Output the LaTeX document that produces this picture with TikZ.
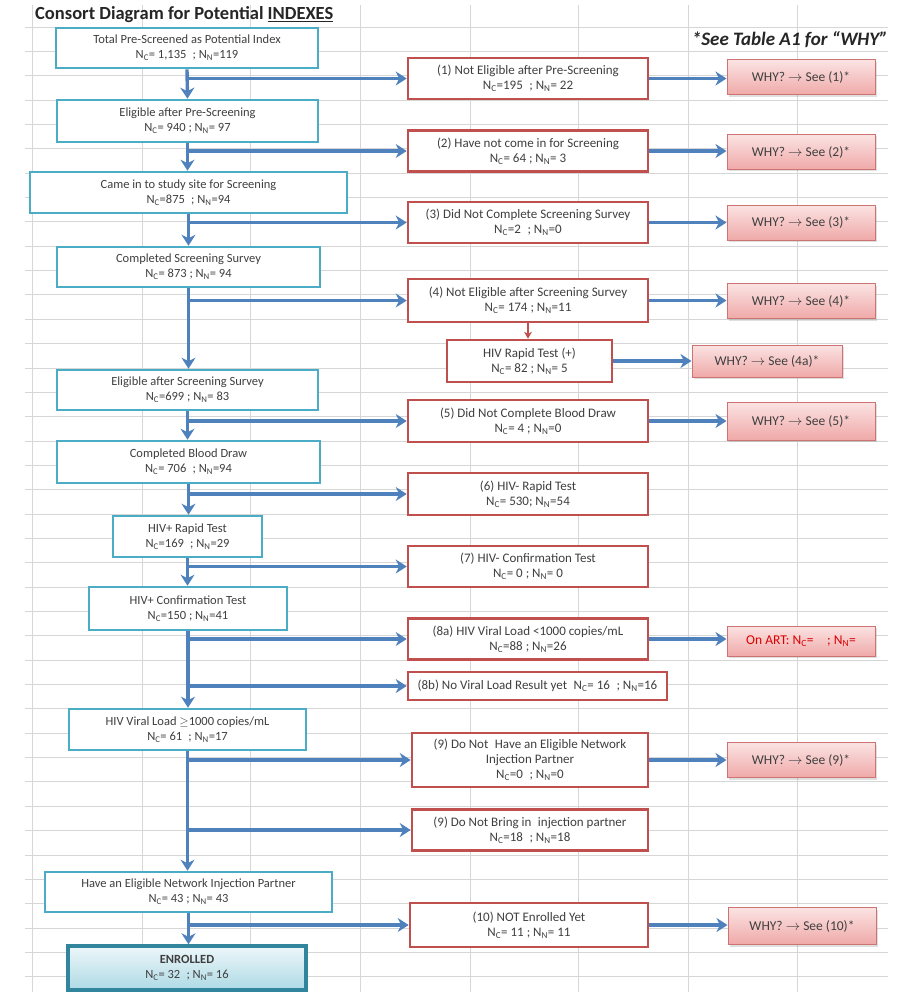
\documentclass[tikz,border=0pt]{standalone}
\usepackage{fontspec}
\setmainfont{Carlito}
\usepackage{tikz}
\usetikzlibrary{arrows.meta,shadows}
\definecolor{boxcyan}{HTML}{4BACC6}
\definecolor{boxteal}{HTML}{31859C}
\definecolor{boxred}{HTML}{C0504D}
\definecolor{flowblue}{HTML}{4F81BD}
\definecolor{gridgray}{HTML}{D6D6D6}
\definecolor{txtgray}{HTML}{3F3F3F}
\definecolor{whytop}{HTML}{FBE3E3}
\definecolor{whybot}{HTML}{EFA9A8}
\newcommand{\NC}{N\textsubscript{C}}
\newcommand{\NN}{N\textsubscript{N}}

\begin{document}
\begin{tikzpicture}[x=1pt,y=1pt]
			\tikzstyle{every node}+=[inner sep=0pt, text=txtgray, align=center, font=\fontsize{12.5}{15}\selectfont]
			\tikzstyle{mainbox}=[draw=boxcyan, fill=white, line width=2.6pt, minimum height=40]
			\tikzstyle{outbox}=[draw=boxred, fill=white, line width=2.6pt, minimum width=240, minimum height=41, font=\fontsize{13}{15}\selectfont]
			\tikzstyle{whybox}=[draw=boxred!80, line width=1pt, top color=whytop, bottom color=whybot, minimum width=148, minimum height=35, font=\fontsize{13.5}{15}\selectfont, drop shadow={opacity=0.25, shadow xshift=2pt, shadow yshift=-2pt}]
			\tikzstyle{flow}=[draw=flowblue, line width=3.4pt, -{Stealth[length=11pt,width=14pt,inset=3.5pt]}]
			\useasboundingbox (0,0) rectangle (903,-995);
			\fill [white] (0,0) rectangle (903,-995);
			\foreach \gx in {32,142,250,360,470,578,688,797}
				\draw [gridgray, line width=0.8pt] (\gx,-5) -- (\gx,-992);
			\foreach \k in {0,...,39}
				\draw [gridgray, line width=0.8pt] (25,{-27-24.35*\k}) -- (888,{-27-24.35*\k});
			\node [anchor=west, font=\fontsize{18.5}{20}\selectfont\bfseries, text=black!85] (title) at (35,-15) {Consort Diagram for Potential \underline{INDEXES}};
			\node [anchor=east, font=\fontsize{19}{20}\selectfont\bfseries\itshape, text=black!85] (note) at (888,-40) {*See Table A1 for ``WHY''};
			\node [mainbox, minimum width=262] (m1) at (187,-48) {Total Pre-Screened as Potential Index\\ \NC= 1,135\enspace ; \NN=119};
			\node [mainbox, minimum width=261, minimum height=42] (m2) at (187.5,-121) {Eligible after Pre-Screening\\ \NC= 940 ; \NN= 97};
			\node [mainbox, minimum width=317, minimum height=41] (m3) at (188.5,-192.5) {Came in to study site for Screening\\ \NC=875\enspace ; \NN=94};
			\node [mainbox, minimum width=263] (m4) at (188.5,-267) {Completed Screening Survey\\ \NC= 873 ; \NN= 94};
			\node [mainbox, minimum width=261] (m5) at (187.5,-390) {Eligible after Screening Survey\\ \NC=699 ; \NN= 83};
			\node [mainbox, minimum width=263, minimum height=42] (m6) at (188.5,-462) {Completed Blood Draw\\ \NC= 706\enspace ; \NN=94};
			\node [mainbox, minimum width=149, minimum height=41] (m7) at (187.5,-536.5) {HIV+ Rapid Test\\ \NC=169\enspace ; \NN=29};
			\node [mainbox, minimum width=198, minimum height=43] (m8) at (188,-608.5) {HIV+ Confirmation Test\\ \NC=150 ; \NN=41};
			\node [mainbox, minimum width=237, minimum height=41] (m9) at (187.5,-729.5) {HIV Viral Load $\geq$1000 copies/mL\\ \NC= 61\enspace ; \NN=17};
			\node [mainbox, minimum width=287] (m10) at (188.5,-892) {Have an Eligible Network Injection Partner\\ \NC= 43 ; \NN= 43};
			\node [mainbox, draw=boxteal, line width=3.4pt, top color=boxcyan!10, bottom color=boxcyan!45, minimum width=238, minimum height=44, drop shadow={opacity=0.25, shadow xshift=2pt, shadow yshift=-2pt}] (m11) at (187,-968) {\textbf{ENROLLED}\\ \NC= 32\enspace ; \NN= 16};
			\node [outbox] (r1) at (528,-78.5) {(1) Not Eligible after Pre-Screening\\ \NC=195\enspace ; \NN= 22};
			\node [outbox] (r2) at (528,-151) {(2) Have not come in for Screening\\ \NC= 64 ; \NN= 3};
			\node [outbox] (r3) at (528,-222.5) {(3) Did Not Complete Screening Survey\\ \NC=2\enspace ; \NN=0};
			\node [outbox, minimum height=43] (r4) at (528,-300.5) {(4) Not Eligible after Screening Survey\\ \NC= 174 ; \NN=11};
			\node [outbox, minimum width=165, minimum height=42] (r4a) at (529.5,-361) {HIV Rapid Test (+)\\ \NC= 82 ; \NN= 5};
			\node [outbox, minimum height=42] (r5) at (528,-421) {(5) Did Not Complete Blood Draw\\ \NC= 4 ; \NN=0};
			\node [outbox, minimum height=42] (r6) at (528,-494) {(6) HIV- Rapid Test\\ \NC= 530; \NN=54};
			\node [outbox] (r7) at (528,-566.5) {(7) HIV- Confirmation Test\\ \NC= 0 ; \NN= 0};
			\node [outbox] (r8a) at (528,-639) {(8a) HIV Viral Load <1000 copies/mL\\ \NC=88 ; \NN=26};
			\node [outbox, minimum width=259, minimum height=28] (r8b) at (537.5,-686) {(8b) No Viral Load Result yet\enspace \NC= 16\enspace ; \NN=16};
			\node [outbox, minimum width=236, minimum height=54] (r9) at (530,-760) {(9) Do Not\enspace Have an Eligible Network\\ Injection Partner\\ \NC=0\enspace ; \NN=0};
			\node [outbox, minimum width=236] (r9b) at (530,-830) {(9) Do Not Bring in\enspace injection partner\\ \NC=18\enspace ; \NN=18};
			\node [outbox, minimum width=238, minimum height=44] (r10) at (529,-925) {(10) NOT Enrolled Yet\\ \NC= 11 ; \NN= 11};
			\node [whybox] (w1) at (801,-77.5) {WHY? $\rightarrow$ See (1)*};
			\node [whybox] (w2) at (801,-152) {WHY? $\rightarrow$ See (2)*};
			\node [whybox] (w3) at (801,-222.5) {WHY? $\rightarrow$ See (3)*};
			\node [whybox] (w4) at (801,-301) {WHY? $\rightarrow$ See (4)*};
			\node [whybox, minimum width=150, minimum height=32] (w4a) at (767,-361) {WHY? $\rightarrow$ See (4a)*};
			\node [whybox, minimum height=38] (w5) at (801,-421) {WHY? $\rightarrow$ See (5)*};
			\node [whybox, minimum height=30, text=red!85!black] (wart) at (801,-641) {On ART: \NC=\quad ; \NN=};
			\node [whybox] (w9) at (801,-760) {WHY? $\rightarrow$ See (9)*};
			\node [whybox, minimum height=37] (w10) at (802,-926) {WHY? $\rightarrow$ See (10)*};
			\draw [flow] (m1.south) -- (m2.north);
			\draw [flow] (m2.south) -- (m2.south |- m3.north);
			\draw [flow] (m3.south) -- (m3.south |- m4.north);
			\draw [flow] (m4.south) -- (m4.south |- m5.north);
			\draw [flow] (m5.south) -- (m5.south |- m6.north);
			\draw [flow] (m6.south) -- (m6.south |- m7.north);
			\draw [flow] (m7.south) -- (m7.south |- m8.north);
			\draw [flow] (m8.south) -- (m8.south |- m9.north);
			\draw [flow] (m9.south) -- (m9.south |- m10.north);
			\draw [flow] (m10.south) -- (m10.south |- m11.north);
			\draw [flow] (m1.south |- r1.west) -- (r1.west);
			\draw [flow] (m2.south |- r2.west) -- (r2.west);
			\draw [flow] (m3.south |- r3.west) -- (r3.west);
			\draw [flow] (m4.south |- r4.west) -- (r4.west);
			\draw [flow] (m5.south |- r5.west) -- (r5.west);
			\draw [flow] (m6.south |- r6.west) -- (r6.west);
			\draw [flow] (m7.south |- r7.west) -- (r7.west);
			\draw [flow] (m8.south |- r8a.west) -- (r8a.west);
			\draw [flow] (m8.south |- r8b.west) -- (r8b.west);
			\draw [flow] (m9.south |- r9.west) -- (r9.west);
			\draw [flow] (m9.south |- r9b.west) -- (r9b.west);
			\draw [flow] (m10.south |- r10.west) -- (r10.west);
			\draw [draw=boxred, line width=2pt, -{Stealth[length=7pt,width=8pt]}] (r4.south) -- (r4.south |- r4a.north);
			\draw [flow] (r1.east) -- (r1.east -| w1.west);
			\draw [flow] (r2.east) -- (r2.east -| w2.west);
			\draw [flow] (r3.east) -- (r3.east -| w3.west);
			\draw [flow] (r4.east) -- (r4.east -| w4.west);
			\draw [flow] (r4a.east) -- (r4a.east -| w4a.west);
			\draw [flow] (r5.east) -- (r5.east -| w5.west);
			\draw [flow] (r8a.east) -- (r8a.east -| wart.west);
			\draw [flow] (r9.east) -- (r9.east -| w9.west);
			\draw [flow] (r10.east) -- (r10.east -| w10.west);
\end{tikzpicture}
\end{document}
